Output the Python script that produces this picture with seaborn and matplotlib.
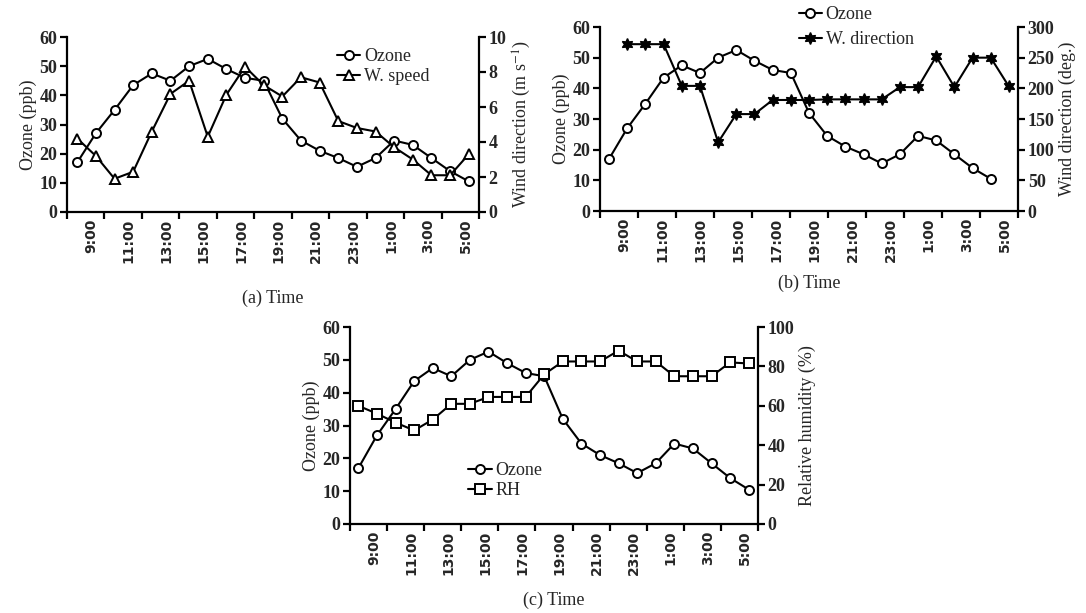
import numpy as np
import pandas as pd
import seaborn as sns
import matplotlib
matplotlib.use("Agg")
import matplotlib.pyplot as plt

# ---------------- data ----------------
hours = ["8:00", "9:00", "10:00", "11:00", "12:00", "13:00", "14:00", "15:00",
         "16:00", "17:00", "18:00", "19:00", "20:00", "21:00", "22:00", "23:00",
         "0:00", "1:00", "2:00", "3:00", "4:00", "5:00"]
tick_labels = ["9:00", "11:00", "13:00", "15:00", "17:00", "19:00", "21:00",
               "23:00", "1:00", "3:00", "5:00"]
ozone = [17, 27, 35, 43.5, 47.5, 45, 50, 52.5, 49, 46, 45, 32, 24.5, 21,
         18.5, 15.5, 18.5, 24.5, 23, 18.5, 14, 10.5]
wind_speed = [4.2, 3.2, 1.9, 2.3, 4.6, 6.75, 7.5, 4.3, 6.7, 8.3, 7.25, 6.6,
              7.7, 7.4, 5.2, 4.8, 4.6, 3.7, 3.0, 2.1, 2.1, 3.3]
wind_dir = [272, 272, 272, 204, 204, 112, 158, 158, 181, 181, 181, 182, 182,
            182, 182, 202, 202, 252, 202, 250, 250, 203]
rh = [60, 56, 51.5, 47.5, 53, 61, 61, 64.5, 64.5, 64.5, 76, 82.5, 82.5, 82.5,
      88, 82.5, 82.5, 75, 75, 75, 82, 81.5]

# ---------------- style ----------------
sns.set_theme(style="ticks")
plt.rcParams["font.family"] = ["Liberation Serif", "DejaVu Serif"]
plt.rcParams["mathtext.fontset"] = "stix"
plt.rcParams["axes.linewidth"] = 1.6
plt.rcParams["xtick.major.width"] = 1.6
plt.rcParams["ytick.major.width"] = 1.6
plt.rcParams["xtick.direction"] = "out"
plt.rcParams["ytick.direction"] = "out"

FS = 13
idx = np.arange(len(hours))
df = pd.DataFrame({"t": idx, "ozone": ozone, "ws": wind_speed,
                   "wd": wind_dir, "rh": rh})
df["t_wd"] = df["t"] + 1

fig = plt.figure(figsize=(10.86, 6.13), dpi=100)

line_kw = dict(color="black", linewidth=1.5, markersize=6.5,
               markeredgewidth=1.4, markeredgecolor="black")


def style_axes(ax, ax2, xlim, ylim, yticks, y2lim, y2ticks, ylab2, xlab,
               xpad):
    ax.set_xlim(*xlim)
    ax.set_ylim(*ylim)
    ax.set_yticks(yticks)
    ax2.set_ylim(*y2lim)
    ax2.set_yticks(y2ticks)
    for a in (ax, ax2):
        a.spines["top"].set_visible(False)
        for s in ("left", "right", "bottom"):
            a.spines[s].set_color("black")
            a.spines[s].set_linewidth(1.6)
    ax.spines["right"].set_visible(False)
    ax2.spines["left"].set_visible(False)
    ax2.spines["bottom"].set_visible(False)
    ax.grid(False)
    ax2.grid(False)
    # x ticks: marks at equal divisions, labels between them
    ticks = np.linspace(xlim[0], xlim[1], 12)
    step = ticks[1] - ticks[0]
    lab_pos = ticks[:-1] + step * 0.5 + step * 0.15
    ax.set_xticks(ticks)
    ax.set_xticklabels([""] * len(ticks))
    ax.set_xticks(lab_pos, minor=True)
    ax.set_xticklabels(tick_labels, minor=True, rotation=90,
                       fontfamily="DejaVu Sans", fontweight="bold",
                       fontsize=10)
    ax.tick_params(axis="x", which="major", length=5, width=1.6,
                   color="black")
    ax.tick_params(axis="x", which="minor", length=0, pad=5)
    ax.tick_params(axis="y", which="major", length=5, width=1.6,
                   labelsize=FS, color="black", pad=2)
    ax2.tick_params(axis="y", which="major", length=5, width=1.6,
                    labelsize=FS, color="black", pad=2)
    for lab in ax.get_yticklabels() + ax2.get_yticklabels():
        lab.set_fontweight("bold")
    ax.set_ylabel("Ozone (ppb)", fontsize=FS, labelpad=2)
    ax2.set_ylabel(ylab2, fontsize=FS, labelpad=3)
    ax.set_xlabel(xlab, fontsize=FS, labelpad=xpad)


def legend(ax, ax2, anchor, spacing=0.15):
    h1, l1 = ax.get_legend_handles_labels()
    h2, l2 = ax2.get_legend_handles_labels()
    for a in (ax, ax2):
        lg = a.get_legend()
        if lg is not None:
            lg.remove()
    ax2.legend(h1 + h2, l1 + l2, loc="center left", bbox_to_anchor=anchor,
               frameon=False, fontsize=FS, handlelength=1.3,
               handletextpad=0.2, labelspacing=spacing, borderaxespad=0,
               borderpad=0)


# ---------------- (a) ----------------
axa = fig.add_axes([67 / 1086, 1 - 212 / 613, 412 / 1086, 175 / 613])
axa2 = axa.twinx()
sns.lineplot(data=df, x="t", y="ozone", ax=axa, marker="o",
             markerfacecolor="white", label="Ozone", **line_kw)
sns.lineplot(data=df, x="t", y="ws", ax=axa2, marker="^",
             markerfacecolor="white", label="W. speed", **line_kw)
style_axes(axa, axa2, (-0.55, 21.55), (0, 60), range(0, 61, 10),
           (0, 10), range(0, 11, 2), r"Wind direction (m s$^{-1}$)",
           "(a) Time", 19)
legend(axa, axa2, (0.655, 0.83))

# ---------------- (b) ----------------
axb = fig.add_axes([600 / 1086, 1 - 211 / 613, 418 / 1086, 184 / 613])
axb2 = axb.twinx()
sns.lineplot(data=df, x="t", y="ozone", ax=axb, marker="o",
             markerfacecolor="white", label="Ozone", **line_kw)
kw_b = dict(line_kw)
kw_b["markersize"] = 8.5
kw_b["markeredgewidth"] = 1.0
sns.lineplot(data=df, x="t_wd", y="wd", ax=axb2, marker=(6, 1, 0),
             markerfacecolor="black", label="W. direction", **kw_b)
style_axes(axb, axb2, (-0.5, 22.5), (0, 60), range(0, 61, 10),
           (0, 300), range(0, 301, 50), "Wind direction (deg.)",
           "(b) Time", 9)
legend(axb, axb2, (0.475, 1.0), spacing=0.45)

# ---------------- (c) ----------------
axc = fig.add_axes([350 / 1086, 1 - 524 / 613, 408 / 1086, 197 / 613])
axc2 = axc.twinx()
sns.lineplot(data=df, x="t", y="ozone", ax=axc, marker="o",
             markerfacecolor="white", label="Ozone", **line_kw)
sns.lineplot(data=df, x="t", y="rh", ax=axc2, marker="s",
             markerfacecolor="white", label="RH", **line_kw)
style_axes(axc, axc2, (-0.45, 21.5), (0, 60), range(0, 61, 10),
           (0, 100), range(0, 101, 20), "Relative humidity (%)",
           "(c) Time", 12)
legend(axc, axc2, (0.29, 0.22))

fig.savefig("out.png", dpi=100)
